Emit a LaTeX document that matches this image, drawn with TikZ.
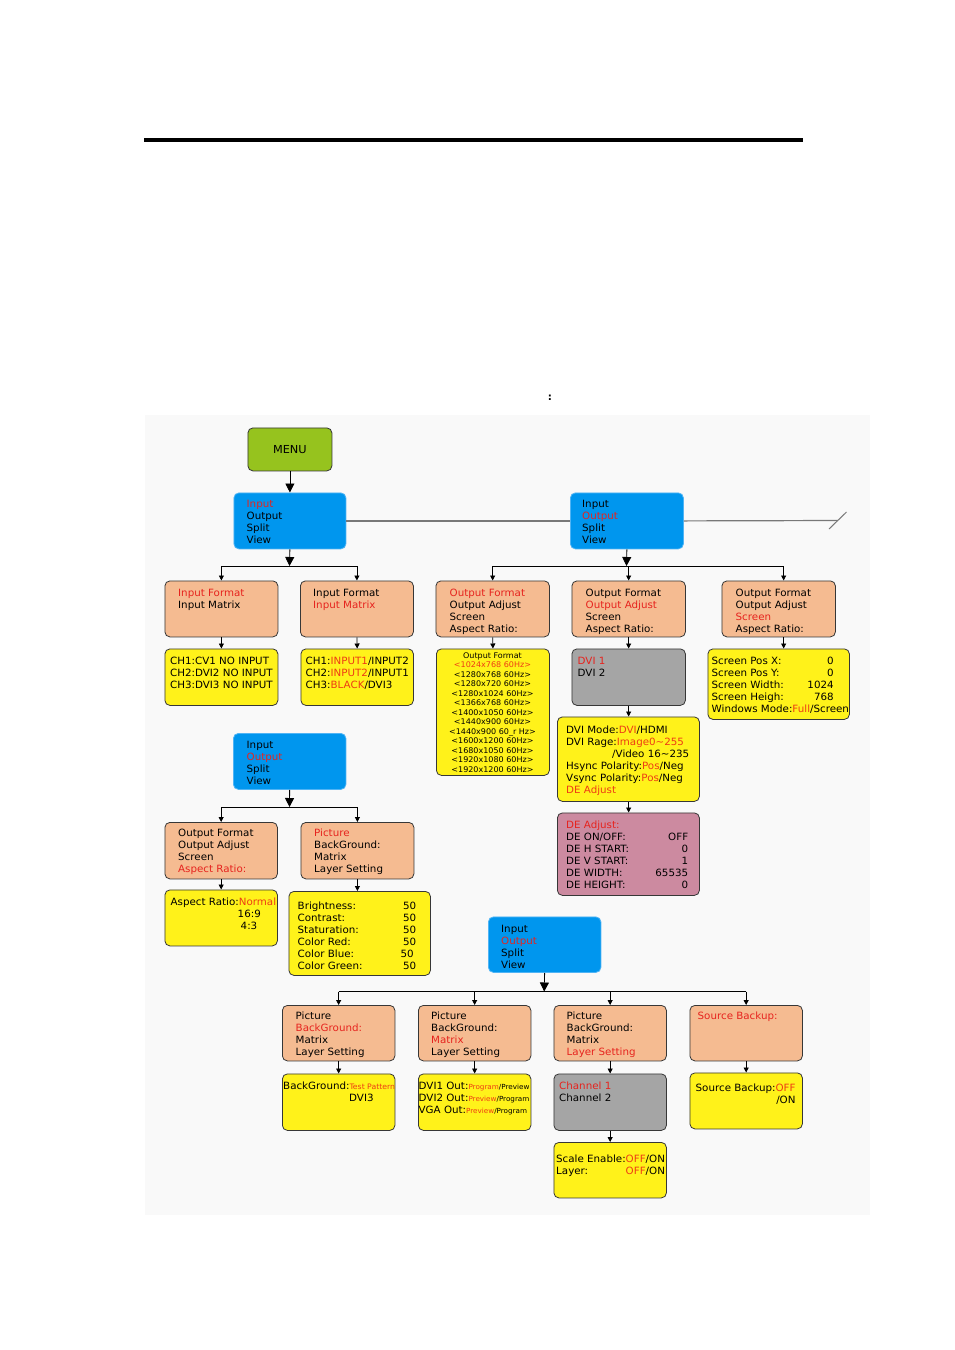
\documentclass[tikz,border=0pt]{standalone}
\usepackage{fontspec}
\setmainfont{DejaVu Sans}[FakeStretch=1.03]
\usetikzlibrary{arrows.meta}
\definecolor{salmon}{RGB}{245,187,145}
\definecolor{ybox}{RGB}{255,242,26}
\definecolor{bbox}{RGB}{0,150,238}
\definecolor{bline}{RGB}{80,180,245}
\definecolor{gbox}{RGB}{165,165,165}
\definecolor{pbox}{RGB}{204,138,160}
\definecolor{mgreen}{RGB}{150,195,30}
\definecolor{tred}{RGB}{230,35,30}
\definecolor{tora}{RGB}{238,60,20}
\definecolor{edge}{RGB}{55,55,55}
\definecolor{hline}{RGB}{120,120,120}
\definecolor{bg}{RGB}{249,249,249}
\newcommand{\R}[1]{\textcolor{tred}{#1}}
\newcommand{\Y}[1]{\textcolor{tora}{#1}}
\newcommand{\lr}[3]{\makebox[#1][s]{#2\hfill#3}}
\newcommand{\sm}[1]{{\fontsize{7}{8}\selectfont #1}}
\newcommand{\TL}[1]{\begin{tabular}[t]{@{}l@{}}#1\end{tabular}}
\newcommand{\TC}[1]{\begin{tabular}[t]{@{}c@{}}#1\end{tabular}}
\newcommand{\TR}[1]{\begin{tabular}[t]{@{}r@{}}#1\end{tabular}}
\newcommand{\bx}[6]{\node[box,#6,minimum width={#4-#2},minimum height={#5-#3}] (#1) at (#2,#3) {};}
\tikzset{
  box/.style={draw=edge, line width=0.8pt, rounded corners=5pt, inner sep=0pt, anchor=north west},
  salm/.style={fill=salmon},
  yel/.style={fill=ybox},
  blu/.style={fill=bbox, draw=bline},
  gry/.style={fill=gbox},
  pnk/.style={fill=pbox},
  txt/.style={anchor=base west, inner sep=0pt, font=\fontsize{10}{12}\selectfont},
  conn/.style={draw=black, line width=0.8pt},
  sarr/.style={conn, -{Triangle[width=5pt,length=5pt]}},
  barr/.style={conn, -{Triangle[width=9pt,length=9pt]}}
}
\begin{document}
\begin{tikzpicture}[x=1pt,y=-1pt]
\useasboundingbox (0,0) rectangle (954,1350);
\fill[white] (0,0) rectangle (954,1350);
\fill[black] (144,138) rectangle (803,142);
\node[inner sep=0pt, font=\fontsize{10}{12}\selectfont\bfseries] (colon) at (550,398) {:};
\fill[bg] (145,415) rectangle (870,1215);

% boxes
\node[box, fill=mgreen, minimum width=84, minimum height=43, font=\fontsize{11}{13}\selectfont] (menu) at (247.5,427.5) {MENU};
\bx{b1}{233.5}{492.5}{345.5}{548.5}{blu}
\bx{b2}{570}{492.5}{683}{548.5}{blu}
\bx{A1}{164.5}{580.5}{277.5}{636.5}{salm}
\bx{A2}{300}{580.5}{413}{636.5}{salm}
\bx{B1}{435.5}{580.5}{549}{636.5}{salm}
\bx{B2}{571.5}{580.5}{685}{636.5}{salm}
\bx{B3}{721.5}{580.5}{835}{636.5}{salm}
\bx{C1}{164.5}{648.5}{277.5}{705}{yel}
\bx{C2}{300.5}{648.5}{413}{705}{yel}
\bx{D1}{436}{648.5}{549}{775}{yel}
\bx{D2}{571.5}{648.5}{685}{705}{gry}
\bx{D3}{707.5}{648.5}{849}{719}{yel}
\bx{E}{557}{716.5}{699}{801}{yel}
\bx{F}{557}{812.5}{699}{895}{pnk}
\bx{b3}{233}{733}{345.5}{789}{blu}
\bx{G1}{164.5}{822}{277}{878.5}{salm}
\bx{G2}{300.5}{822}{413.5}{878.5}{salm}
\bx{H1}{164.5}{889.5}{277}{945.5}{yel}
\bx{H2}{288.5}{891}{430}{975}{yel}
\bx{b4}{488}{916.5}{600.5}{972}{blu}
\bx{I1}{282}{1005}{394.5}{1060.5}{salm}
\bx{I2}{418}{1005}{530.5}{1060.5}{salm}
\bx{I3}{553.5}{1005}{666}{1060.5}{salm}
\bx{I4}{689.5}{1005}{802}{1060.5}{salm}
\bx{J1}{282}{1073.5}{394.5}{1130}{yel}
\bx{J2}{418}{1073.5}{530.5}{1130}{yel}
\bx{J3}{553.5}{1073.5}{666}{1130}{gry}
\bx{J4}{689.5}{1072.5}{802}{1128.5}{yel}
\bx{K3}{553.5}{1142}{666}{1197.5}{yel}

% texts
\node[txt] (b1t) at (246.5,507.5) {\TL{\R{Input}\\Output\\Split\\View}};
\node[txt] (b2t) at (582,507.5) {\TL{Input\\\R{Output}\\Split\\View}};
\node[txt] (b3t) at (246.5,748.5) {\TL{Input\\\R{Output}\\Split\\View}};
\node[txt] (b4t) at (501,932) {\TL{Input\\\R{Output}\\Split\\View}};
\node[txt] (A1t) at (178,596) {\TL{\R{Input Format}\\Input Matrix}};
\node[txt] (A2t) at (313,596) {\TL{Input Format\\\R{Input Matrix}}};
\node[txt] (B1t) at (449.5,596) {\TL{\R{Output Format}\\Output Adjust\\Screen\\Aspect Ratio:}};
\node[txt] (B2t) at (585.5,596) {\TL{Output Format\\\R{Output Adjust}\\Screen\\Aspect Ratio:}};
\node[txt] (B3t) at (735.5,596) {\TL{Output Format\\Output Adjust\\\R{Screen}\\Aspect Ratio:}};
\node[txt] (C1t) at (170,664.5) {\TL{CH1:CV1 NO INPUT\\CH2:DVI2 NO INPUT\\CH3:DVI3 NO INPUT}};
\node[txt] (C2t) at (305.5,664.5) {\TL{CH1:\Y{INPUT1}/INPUT2\\CH2:\Y{INPUT2}/INPUT1\\CH3:\Y{BLACK}/DVI3}};
\node[txt, anchor=base, font=\fontsize{7.8}{9.5}\selectfont] (D1t) at (492.5,658) {\TC{Output Format\\\Y{<1024x768 60Hz>}\\<1280x768 60Hz>\\<1280x720 60Hz>\\<1280x1024 60Hz>\\<1366x768 60Hz>\\<1400x1050 60Hz>\\<1440x900 60Hz>\\<1440x900 60\_r Hz>\\<1600x1200 60Hz>\\<1680x1050 60Hz>\\<1920x1080 60Hz>\\<1920x1200 60Hz>}};
\node[txt] (D2t) at (577.5,664.5) {\TL{\R{DVI 1}\\DVI 2}};
\node[txt] (D3t) at (711.5,664.5) {\TL{\lr{122pt}{Screen Pos X:}{0}\\\lr{122pt}{Screen Pos Y:}{0}\\\lr{122pt}{Screen Width:}{1024}\\\lr{122pt}{Screen Heigh:}{768}\\Windows Mode:\Y{Full}/Screen}};
\node[txt] (Et) at (566,733.5) {\TL{DVI Mode:\Y{DVI}/HDMI\\DVI Rage:\Y{Image0\textasciitilde255}\\\hspace*{46pt}/Video 16\textasciitilde235\\Hsync Polarity:\Y{Pos}/Neg\\Vsync Polarity:\Y{Pos}/Neg\\\Y{DE Adjust}}};
\node[txt] (Ft) at (566,828) {\TL{\R{DE Adjust:}\\\lr{122pt}{DE ON/OFF:}{OFF}\\\lr{122pt}{DE H START:}{0}\\\lr{122pt}{DE V START:}{1}\\\lr{122pt}{DE WIDTH:}{65535}\\\lr{122pt}{DE HEIGHT:}{0}}};
\node[txt] (G1t) at (178,836) {\TL{Output Format\\Output Adjust\\Screen\\\R{Aspect Ratio:}}};
\node[txt] (G2t) at (314,836) {\TL{\R{Picture}\\BackGround:\\Matrix\\Layer Setting}};
\node[txt] (H1t) at (170.5,905.5) {\TL{Aspect Ratio:\Y{Normal}\\\hspace*{67pt}16:9\\\hspace*{70pt}4:3}};
\node[txt] (H2t) at (297.5,909) {\TL{\lr{118.5pt}{Brightness:}{50}\\\lr{118.5pt}{Contrast:}{50}\\\lr{118.5pt}{Staturation:}{50}\\\lr{118.5pt}{Color Red:}{50}\\\lr{116pt}{Color Blue:}{50}\\\lr{118.5pt}{Color Green:}{50}}};
\node[txt] (I1t) at (295.5,1019) {\TL{Picture\\\R{BackGround:}\\Matrix\\Layer Setting}};
\node[txt] (I2t) at (431,1019) {\TL{Picture\\BackGround:\\\R{Matrix}\\Layer Setting}};
\node[txt] (I3t) at (566.5,1019) {\TL{Picture\\BackGround:\\Matrix\\\R{Layer Setting}}};
\node[txt] (I4t) at (697.5,1019) {\R{Source Backup:}};
\node[txt] (J1t) at (283,1089) {\TL{BackGround:{\fontsize{7.5}{9}\selectfont\Y{Test Pattern}}\\\hspace*{66pt}DVI3}};
\node[txt] (J2t) at (418.5,1089) {\TL{DVI1 Out:\sm{\Y{Program}/Preview}\\DVI2 Out:\sm{\Y{Preview}/Program}\\VGA Out:\sm{\Y{Preview}/Program}}};
\node[txt] (J3t) at (559,1089) {\TL{\R{Channel 1}\\Channel 2}};
\node[txt] (J4t) at (695.5,1091) {\TR{Source Backup:\Y{OFF}\\/ON}};
\node[txt] (K3t) at (556,1162) {\begin{tabular}[t]{@{}l@{}r@{}}Scale Enable:&\Y{OFF}/ON\\Layer:&\Y{OFF}/ON\end{tabular}};

% connectors
\draw[barr] (menu.south) -- (b1.north);
\draw[draw=hline, line width=1.2pt] (b1.east) -- (b2.west);
\coordinate (cut) at (838,520.5);
\draw[draw=hline, line width=1.2pt] (b2.east) -- (cut);
\draw[draw=hline, line width=1pt] ([shift={(-9,8.5)}]cut) -- ([shift={(8.5,-8.5)}]cut);

\coordinate (j1) at (289.5,566);
\draw[barr] (b1.south) -- (j1);
\draw[conn] (j1 -| A1.north) -- (j1 -| A2.north);
\draw[sarr] (j1 -| A1.north) -- (A1.north);
\draw[sarr] (j1 -| A2.north) -- (A2.north);
\draw[sarr] (A1.south) -- (C1.north);
\draw[sarr] (A2.south) -- (C2.north);

\coordinate (j2) at (626.5,566);
\coordinate (B3in) at ([xshift=5pt]B3.north);
\draw[barr] (b2.south) -- (j2);
\draw[conn] (j2 -| B1.north) -- (j2 -| B3in);
\draw[sarr] (j2 -| B1.north) -- (B1.north);
\draw[sarr] (j2 -| B2.north) -- (B2.north);
\draw[sarr] (j2 -| B3in) -- (B3in);
\draw[sarr] (B1.south) -- (D1.north);
\draw[sarr] (B2.south) -- (D2.north);
\draw[sarr] (B3in |- B3.south) -- (B3in |- D3.north);
\draw[sarr] (D2.south) -- (D2.south |- E.north);
\draw[sarr] (E.south -| D2.south) -- (F.north -| D2.south);

\coordinate (j3) at (289.5,807);
\draw[barr] (b3.south) -- (j3);
\draw[conn] (j3 -| G1.north) -- (j3 -| G2.north);
\draw[sarr] (j3 -| G1.north) -- (G1.north);
\draw[sarr] (j3 -| G2.north) -- (G2.north);
\draw[sarr] (G1.south) -- (G1.south |- H1.north);
\draw[sarr] (G2.south) -- (G2.south |- H2.north);

\coordinate (j4) at (544.2,991.5);
\draw[barr] (b4.south) -- (j4);
\draw[conn] (j4 -| I1.north) -- (j4 -| I4.north);
\draw[sarr] (j4 -| I1.north) -- (I1.north);
\draw[sarr] (j4 -| I2.north) -- (I2.north);
\draw[sarr] (j4 -| I3.north) -- (I3.north);
\draw[sarr] (j4 -| I4.north) -- (I4.north);
\draw[sarr] (I1.south) -- (J1.north);
\draw[sarr] (I2.south) -- (J2.north);
\draw[sarr] (I3.south) -- (J3.north);
\draw[sarr] (I4.south) -- (J4.north);
\draw[sarr] (J3.south) -- (K3.north);
\end{tikzpicture}
\end{document}
